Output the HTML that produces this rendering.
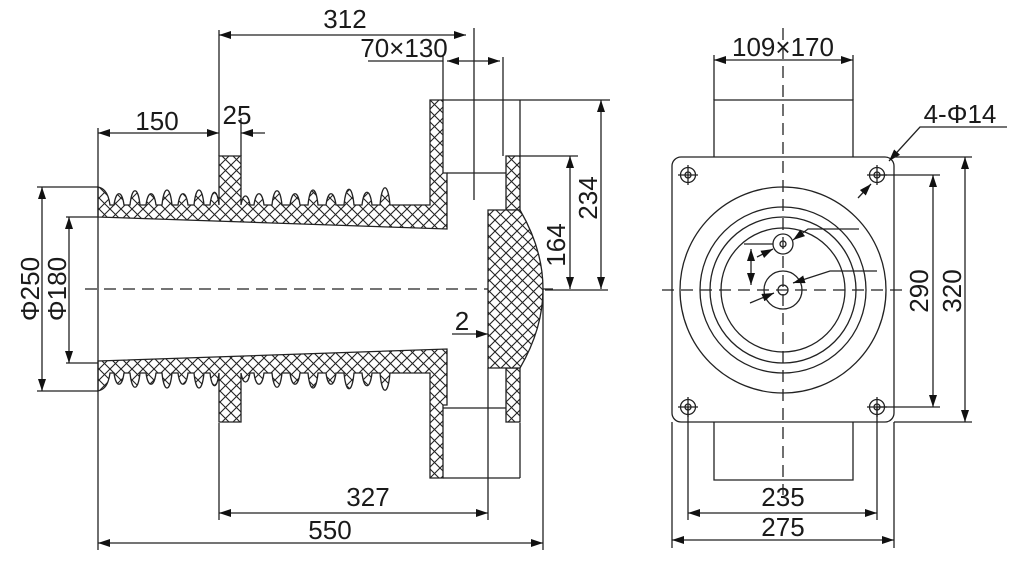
<!DOCTYPE html>
<html><head><meta charset="utf-8"><style>
html,body{margin:0;padding:0;background:#fff;}
svg{display:block;}
text{font-family:"Liberation Sans",sans-serif;font-size:26px;fill:#1a1a1a;}
</style></head><body>
<svg width="1024" height="564" viewBox="0 0 1024 564" xmlns="http://www.w3.org/2000/svg">
<defs>
<pattern id="h" width="11" height="11" patternUnits="userSpaceOnUse">
<rect width="11" height="11" fill="#fff"/>
<path d="M0,0 L11,11 M11,0 L0,11" stroke="#222" stroke-width="1.1"/>
</pattern>
<marker id="a" viewBox="0 0 12 8" refX="12" refY="4" markerWidth="12" markerHeight="8" markerUnits="userSpaceOnUse" orient="auto-start-reverse">
<path d="M0,0 L12,4 L0,8 Z" fill="#111"/>
</marker>
</defs>
<g fill="none" stroke="#222" stroke-width="1.3">
<path d="M85,289 H560" stroke-dasharray="12,7"/>
<g id="up">
<path fill="url(#h)" d="M98,217 L447,229 L447,173 L443,173 L443,100 L430,100 L430,205 L390,205
C388,182 382,182 380,205 L372,205 C370,188 364,188 362,205 L354,205 C352,184 346,184 344,205 L336,205 C334,190 328,190 326,205 L318,205 C316,185 310,185 308,205 L300,205 C298,190 292,190 290,205 L282,205 C280,186 274,186 272,205 L264,205 C262,190 256,190 254,205 L250,205 C248,193 243,193 241,205
L241,156 L219,156 L219,205
C217,188 212,188 210,205 L204,205 C202,185 196,185 194,205 L188,205 C186,190 180,190 178,205 L172,205 C170,185 164,185 162,205 L156,205 C154,190 148,190 146,205 L140,205 C138,186 132,186 130,205 L124,205 C122,190 116,190 114,205 L110,205 C108,190 102,188 98,187 Z"/>
<rect x="506" y="156" width="14" height="54" fill="url(#h)"/>
</g>
<use href="#up" transform="matrix(1,0,0,-1,0,578)"/>
<path fill="url(#h)" d="M488,210 L520,210 Q566,289 520,368 L488,368 Z"/>
<path d="M443,100 H610 M447,173 H506 M474,28 V200 M503,57 V156 M520,100 V156 M443,55 V100"/>
<path d="M443,408 H506 M443,478 H520 M520,423 V478 M488,368 V520"/>
<path d="M98,128 V550 M219,30 V156 M241,118 V156 M219,423 V520 M543,289 V550"/>
<path d="M37,187 H98 M66,217 H98 M66,363 H98 M37,391 H98"/>
<path d="M520,156 H578 M545,290 H608"/>
<path d="M219,35 H466" marker-start="url(#a)" marker-end="url(#a)"/>
<path d="M368,61 H443"/>
<path d="M447,61 H500" marker-start="url(#a)" marker-end="url(#a)"/>
<path d="M98,133 H219" marker-start="url(#a)" marker-end="url(#a)"/>
<path d="M265,133 H241" marker-end="url(#a)"/>
<path d="M42,187 V391" marker-start="url(#a)" marker-end="url(#a)"/>
<path d="M69,217 V363" marker-start="url(#a)" marker-end="url(#a)"/>
<path d="M570,156 V289" marker-start="url(#a)" marker-end="url(#a)"/>
<path d="M601,100 V289" marker-start="url(#a)" marker-end="url(#a)"/>
<path d="M452,334 H488" marker-end="url(#a)"/>
<path d="M219,513 H488" marker-start="url(#a)" marker-end="url(#a)"/>
<path d="M98,543 H543" marker-start="url(#a)" marker-end="url(#a)"/>

<rect x="672" y="157" width="222" height="265" rx="9"/>
<path d="M714,157 V100 H853 V157 M714,422 V480 H853 V422"/>
<path d="M662,290 H905 M783,28 V495" stroke-dasharray="12,7"/>
<circle cx="783" cy="290" r="103"/>
<circle cx="783" cy="290" r="83"/>
<circle cx="783" cy="290" r="73"/>
<circle cx="783" cy="290" r="62"/>
<circle cx="783" cy="244" r="10"/><circle cx="783" cy="244" r="3"/>
<circle cx="783" cy="290" r="19"/><circle cx="783" cy="290" r="5"/>
<g id="b"><circle cx="688" cy="175" r="7.5"/><circle cx="688" cy="175" r="3"/><path d="M678,175 H698 M688,165 V185"/></g>
<use href="#b" transform="translate(189,0)"/>
<use href="#b" transform="translate(0,232)"/>
<use href="#b" transform="translate(189,232)"/>
<path d="M714,55 V100 M853,55 V100"/>
<path d="M714,60 H853" marker-start="url(#a)" marker-end="url(#a)"/>
<path d="M1007,127 H920 L889,161" marker-end="url(#a)"/>
<path d="M858,198 L871,184" marker-end="url(#a)"/>
<path d="M877,175 H940 M877,407 H940 M894,157 H972 M894,422 H972"/>
<path d="M933,175 V407" marker-start="url(#a)" marker-end="url(#a)"/>
<path d="M965,157 V422" marker-start="url(#a)" marker-end="url(#a)"/>
<path d="M688,407 V520 M877,407 V520 M672,422 V548 M894,422 V548"/>
<path d="M688,513 H877" marker-start="url(#a)" marker-end="url(#a)"/>
<path d="M672,540 H894" marker-start="url(#a)" marker-end="url(#a)"/>
<path d="M859,229 H808 L793,240" marker-end="url(#a)"/>
<path d="M877,271 H830 L793,283" marker-end="url(#a)"/>
<path d="M744,244 H773"/>
<path d="M757,257 L773,249" marker-end="url(#a)"/>
<path d="M751,249 V285" marker-start="url(#a)" marker-end="url(#a)"/>
<path d="M750,303 L774,293" marker-end="url(#a)"/>
</g>
<g>
<text x="345" y="28" text-anchor="middle">312</text>
<text x="404" y="57" text-anchor="middle">70×130</text>
<text x="157" y="130" text-anchor="middle">150</text>
<text x="237" y="124" text-anchor="middle">25</text>
<text x="462" y="330" text-anchor="middle">2</text>
<text x="368" y="506" text-anchor="middle">327</text>
<text x="330" y="539" text-anchor="middle">550</text>
<text transform="translate(39,289) rotate(-90)" text-anchor="middle">Φ250</text>
<text transform="translate(66,289) rotate(-90)" text-anchor="middle">Φ180</text>
<text transform="translate(565,245) rotate(-90)" text-anchor="middle">164</text>
<text transform="translate(597,198) rotate(-90)" text-anchor="middle">234</text>
<text x="783" y="56" text-anchor="middle">109×170</text>
<text x="960" y="123" text-anchor="middle">4-Φ14</text>
<text transform="translate(928,291) rotate(-90)" text-anchor="middle">290</text>
<text transform="translate(961,291) rotate(-90)" text-anchor="middle">320</text>
<text x="783" y="506" text-anchor="middle">235</text>
<text x="783" y="536" text-anchor="middle">275</text>
</g>
</svg>
</body></html>
